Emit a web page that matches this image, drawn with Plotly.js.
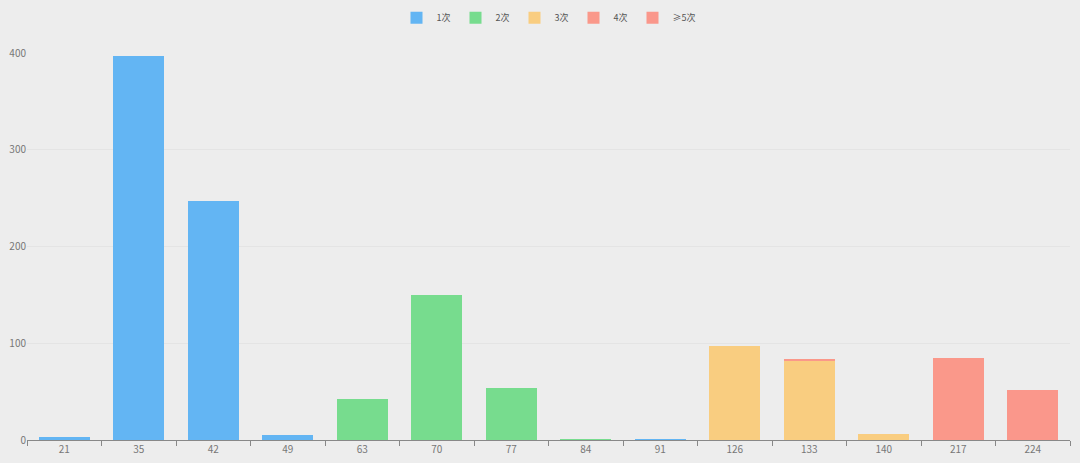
<!DOCTYPE html>
<html><head><meta charset="utf-8">
<script src="https://cdn.plot.ly/plotly-3.0.1.min.js"></script>
<style>html,body{margin:0;padding:0;background:#ededed;}#chart{width:1080px;height:463px;}</style>
</head><body><div id="chart"></div>
<script>
const categories = ["21","35","42","49","63","70","77","84","91","126","133","140","217","224"];
const seriesNames = ["1次","2次","3次","4次","≥5次"];
const s1 = [3, 397, 247, 5, 0, 0, 0, 0, 1, 0, 0, 0, 0, 0];
const s2 = [0, 0, 0, 0, 42, 150, 54, 1, 0, 0, 0, 0, 0, 0];
const s3 = [0, 0, 0, 0, 0, 0, 0, 0, 0, 97, 82, 6, 0, 0];
const s4 = [0, 0, 0, 0, 0, 0, 0, 0, 0, 0, 1, 0, 85, 0];
const s5 = [0, 0, 0, 0, 0, 0, 0, 0, 0, 0, 0, 0, 0, 52];
const colors = ["#63b5f3","#77dc8e","#f9cd80","#fa988a","#fa978b"];
const series = [s1,s2,s3,s4,s5];
const traces = series.map((v,i)=>({
  type:"bar", name: seriesNames[i], x: categories, y: v,
  marker:{color: colors[i], line:{width:0}},
  hoverinfo:"x+y+name"
}));
const font = "'Noto Sans CJK SC','Noto Sans',sans-serif";
Plotly.newPlot("chart", traces, {
  width:1080, height:463,
  paper_bgcolor:"#ededed", plot_bgcolor:"#ededed",
  barmode:"stack", bargap:0.31,
  margin:{l:27, r:10, t:53, b:23},
  font:{family:font, size:10, color:"#777"},
  showlegend:true,
  legend:{orientation:"h", x:0.5, xanchor:"center", y:0.993, yref:"container", yanchor:"top",
    font:{size:9, color:"#555"}, itemwidth:30, traceorder:"normal", bgcolor:"rgba(0,0,0,0)"},
  xaxis:{type:"category", showgrid:false, showline:true, linecolor:"#888", linewidth:1,
    ticks:"outside", tickson:"boundaries", ticklen:5, tickcolor:"#888",
    tickfont:{size:10, color:"#777"}, zeroline:false, fixedrange:true},
  yaxis:{range:[0,400], dtick:100, showgrid:true, gridcolor:"#e4e4e4", gridwidth:1,
    showline:false, zeroline:false, tickfont:{size:10, color:"#777"}, ticks:"", ticklen:0, automargin:false}
}, {displayModeBar:false, staticPlot:false});
</script></body></html>
